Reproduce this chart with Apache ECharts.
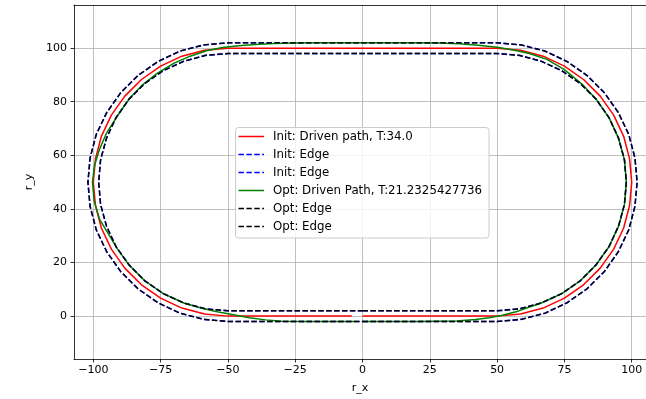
<!DOCTYPE html>
<html>
<head>
<meta charset="utf-8">
<script src="https://cdn.jsdelivr.net/npm/echarts@6/dist/echarts.min.js"></script>
<style>
html,body{margin:0;padding:0;background:#fff;}
#chart{width:646px;height:399px;}
</style>
</head>
<body>
<div id="chart"></div>
<script>
// ---- data ----
const xTicks = [-100, -75, -50, -25, 0, 25, 50, 75, 100];
const yTicks = [0, 20, 40, 60, 80, 100];

const legendLabels = [
  'Init: Driven path, T:34.0',
  'Init: Edge',
  'Init: Edge',
  'Opt: Driven Path, T:21.2325427736',
  'Opt: Edge',
  'Opt: Edge'
];

const redPath = [[0,0],[50,0],[58.7,0.8],[67.1,3.0],[75,6.7],[82.1,11.7],[88.3,17.9],[93.3,25],[97.0,32.9],[99.2,41.3],[100,50],[99.2,58.7],[97.0,67.1],[93.3,75],[88.3,82.1],[82.1,88.3],[75,93.3],[67.1,97.0],[58.7,99.2],[50,100],[-50,100],[-58.7,99.2],[-67.1,97.0],[-75,93.3],[-82.1,88.3],[-88.3,82.1],[-93.3,75],[-97.0,67.1],[-99.2,58.7],[-100,50],[-99.2,41.3],[-97.0,32.9],[-93.3,25],[-88.3,17.9],[-82.1,11.7],[-75,6.7],[-67.1,3.0],[-58.7,0.8],[-50,0],[-4,0]];

const innerEdge = [[0,2],[50,2],[58.3,2.7],[66.4,4.9],[74,8.4],[80.9,13.2],[86.8,19.2],[91.6,26],[95.1,33.6],[97.3,41.7],[98,50],[97.3,58.3],[95.1,66.4],[91.6,74],[86.8,80.9],[80.9,86.8],[74,91.6],[66.4,95.1],[58.3,97.3],[50,98],[-50,98],[-58.3,97.3],[-66.4,95.1],[-74,91.6],[-80.9,86.8],[-86.8,80.9],[-91.6,74],[-95.1,66.4],[-97.3,58.3],[-98,50],[-97.3,41.7],[-95.1,33.6],[-91.6,26],[-86.8,19.2],[-80.9,13.2],[-74,8.4],[-66.4,4.9],[-58.3,2.7],[-50,2],[0,2]];

const outerEdge = [[0,-2],[50,-2],[59.0,-1.2],[67.8,1.1],[76,5.0],[83.4,10.2],[89.8,16.6],[95.0,24],[98.9,32.2],[101.2,41.0],[102,50],[101.2,59.0],[98.9,67.8],[95.0,76],[89.8,83.4],[83.4,89.8],[76,95.0],[67.8,98.9],[59.0,101.2],[50,102],[-50,102],[-59.0,101.2],[-67.8,98.9],[-76,95.0],[-83.4,89.8],[-89.8,83.4],[-95.0,76],[-98.9,67.8],[-101.2,59.0],[-102,50],[-101.2,41.0],[-98.9,32.2],[-95.0,24],[-89.8,16.6],[-83.4,10.2],[-76,5.0],[-67.8,1.1],[-59.0,-1.2],[-50,-2],[0,-2]];

const greenPath = [[0,-2],[20,-2],[35,-1.8],[42,-1.3],[47,-0.6],[52,0.3],[57,1.6],[62,3.4],[66.4,4.9],[74,8.4],[80.9,13.2],[86.8,19.2],[91.6,26],[95.1,33.6],[97.3,41.7],[98,50],[97.3,58.3],[95.1,66.4],[91.6,74],[86.8,80.9],[81.5,86.6],[75,92.0],[68.5,95.8],[62,98.0],[56,99.3],[50,100.3],[43,101.1],[36,101.6],[28,101.9],[15,102],[-15,102],[-25,101.9],[-33,101.7],[-40,101.4],[-46,100.9],[-52,100.2],[-58,99.0],[-64,97.0],[-70,94.4],[-76,90.8],[-81.5,86.5],[-86.5,81.3],[-90.5,75.5],[-95,68.5],[-97.8,62],[-99.6,56],[-100.3,50],[-99.7,43],[-97.6,36],[-94.0,30],[-91.0,25],[-86.8,19.2],[-80.9,13.2],[-74,8.4],[-66.4,4.9],[-60,3.0],[-54,1.6],[-48,0.5],[-42,-0.6],[-36,-1.4],[-30,-1.9],[-20,-2],[-3,-2]];

// ---- chart ----
const FONT = '"DejaVu Sans", sans-serif';
const DASH = [5.5, 2.4];
const fmt = v => String(v).replace('-', '\u2212');

const chart = echarts.init(document.getElementById('chart'), null, {renderer: 'canvas'});

function lineSeries(name, data, color, dashed, z, width) {
  return {
    type: 'line', name: name, data: data, showSymbol: false, symbol: 'none',
    animation: false, silent: true, z: z, clip: true,
    lineStyle: {color: color, width: width || 1.5, type: dashed ? DASH : 'solid', cap: 'butt'}
  };
}

const legendColors = ['#ff0000', '#0000ff', '#0000ff', '#008000', '#000000', '#000000'];
const legendDashed = [false, true, true, false, true, true];
const legendGraphics = [{
  type: 'rect', shape: {x: 235.5, y: 127.5, width: 253.5, height: 110.5, r: 3},
  style: {fill: 'rgba(255,255,255,0.8)', stroke: '#cccccc', lineWidth: 1}, z: 100
}];
legendLabels.forEach((t, i) => {
  const y = 136.5 + i * 18;
  legendGraphics.push({
    type: 'line', shape: {x1: 238.5, y1: y, x2: 264, y2: y},
    style: {stroke: legendColors[i], lineWidth: 1.5, lineDash: legendDashed[i] ? DASH : null}, z: 101
  });
  legendGraphics.push({
    type: 'text', x: 273, y: y,
    style: {text: t, font: '11.8px ' + FONT, fill: '#000', textVerticalAlign: 'middle', textAlign: 'left'}, z: 101
  });
});

const option = {
  backgroundColor: '#ffffff',
  animation: false,
  grid: {left: 74, top: 5, right: 0, bottom: 39, containLabel: false},
  xAxis: [{
    type: 'value', min: -107.17, max: 105.3,
    axisLine: {show: true, onZero: false, lineStyle: {color: '#000', width: 0.8}},
    axisTick: {show: true, length: 3.5, inside: false, customValues: xTicks, lineStyle: {color: '#000', width: 0.8}},
    axisLabel: {show: true, customValues: xTicks, margin: 6, formatter: fmt, color: '#000', fontSize: 11, fontFamily: FONT},
    splitLine: {show: true, lineStyle: {color: '#b0b0b0', width: 0.8}},
    name: 'r_x', nameLocation: 'middle', nameGap: 24,
    nameTextStyle: {color: '#000', fontSize: 11, fontFamily: FONT}
  }, {
    type: 'value', position: 'top', min: -107.17, max: 105.3,
    axisLine: {show: true, onZero: false, lineStyle: {color: '#000', width: 0.8}},
    axisTick: {show: false}, axisLabel: {show: false}, splitLine: {show: false}
  }],
  yAxis: [{
    type: 'value', min: -16.0, max: 116.1,
    axisLine: {show: true, onZero: false, lineStyle: {color: '#000', width: 0.8}},
    axisTick: {show: true, length: 3.5, inside: false, customValues: yTicks, lineStyle: {color: '#000', width: 0.8}},
    axisLabel: {show: true, customValues: yTicks, margin: 7, formatter: fmt, color: '#000', fontSize: 11, fontFamily: FONT},
    splitLine: {show: true, lineStyle: {color: '#b0b0b0', width: 0.8}},
    name: 'r_y', nameLocation: 'middle', nameGap: 31, nameRotate: 90,
    nameTextStyle: {color: '#000', fontSize: 11, fontFamily: FONT}
  }],
  series: [
    lineSeries(legendLabels[0], redPath, '#ff0000', false, 2),
    lineSeries(legendLabels[1], innerEdge, '#0000ff', true, 3, 1.6),
    lineSeries(legendLabels[2], outerEdge, '#0000ff', true, 4, 1.6),
    lineSeries(legendLabels[3], greenPath, '#008000', false, 5),
    lineSeries(legendLabels[4], innerEdge, '#000000', true, 6, 1.3),
    lineSeries(legendLabels[5], outerEdge, '#000000', true, 7, 1.3)
  ],
  graphic: legendGraphics
};
chart.setOption(option);
</script>
</body>
</html>
